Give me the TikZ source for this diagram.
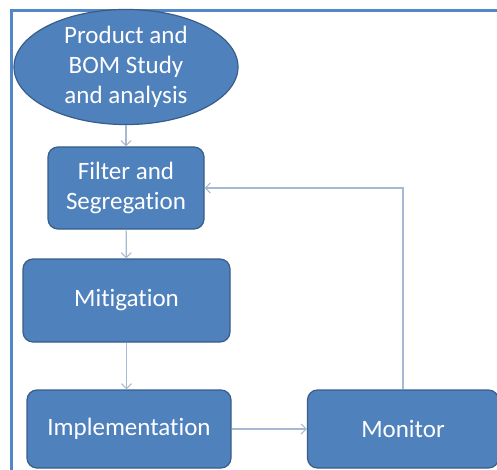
\documentclass[tikz,border=0pt]{standalone}
\usepackage{fontspec}
\setmainfont{Carlito}[Ligatures=NoCommon]
\usepackage{tikz}
\usetikzlibrary{shapes,arrows.meta}

\definecolor{boxfill}{RGB}{79,129,189}
\definecolor{boxline}{RGB}{56,93,138}
\definecolor{framecol}{RGB}{84,135,200}
\definecolor{flowcol}{RGB}{165,185,208}

\begin{document}
\begin{tikzpicture}[x=1pt,y=-1pt,
	procbox/.style={rectangle,rounded corners=10pt,draw=boxline,line width=1.2pt,fill=boxfill,text=white,align=center,font=\fontsize{25}{30}\selectfont,inner sep=0pt},
	startnode/.style={ellipse,draw=boxline,line width=1.2pt,fill=boxfill,text=white,align=center,font=\fontsize{25}{30}\selectfont,inner sep=0pt},
	flow/.style={draw=flowcol,line width=1.1pt},
	>={Straight Barb[length=5pt,width=10pt]}]
	
		\useasboundingbox (0,0) rectangle (497,470);
		\clip (0,0) rectangle (497,470);
		\draw[framecol,line width=3pt] (11,11) rectangle (520,495);
		
		\node[startnode,minimum width=224,minimum height=100] (prod) at (126,67) {Product and\\BOM Study\\and analysis};
		\node[procbox,minimum width=156,minimum height=82] (filt) at (126,188) {Filter and\\Segregation};
		\node[procbox,minimum width=207,minimum height=83] (mit) at (126.5,300.5) {Mitigation};
		\node[procbox,minimum width=204,minimum height=78] (impl) at (129,429) {Implementation};
		\node[procbox,minimum width=191,minimum height=78] (mon) at (403,429) {Monitor};
		
		\path[flow,->] (prod) edge (filt);
		\path[flow,->] (filt) edge (mit);
		\draw[flow,->] (mit.south) -- (mit.south |- impl.north);
		\path[flow,->] (impl) edge (mon);
		\draw[flow,->] (mon.north) |- (filt.east);
		
	\end{tikzpicture}
\end{document}
